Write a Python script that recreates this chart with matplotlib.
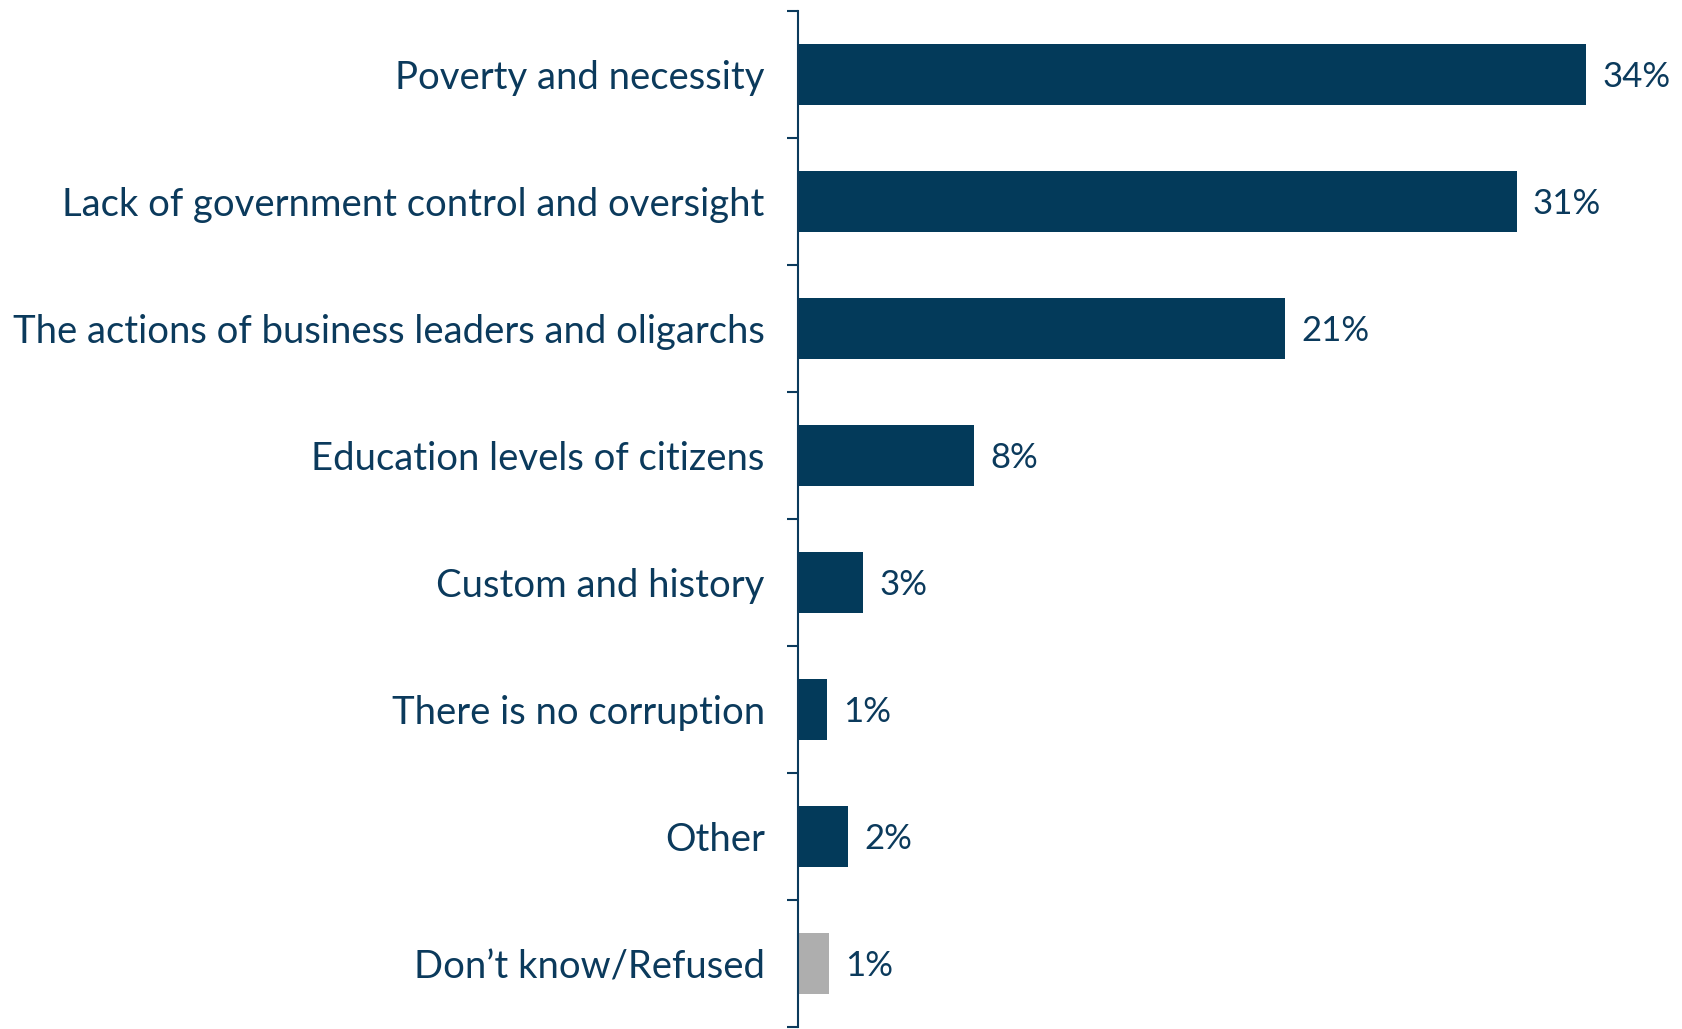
import numpy as np
import matplotlib.pyplot as plt

categories = [
    "Poverty and necessity",
    "Lack of government control and oversight",
    "The actions of business leaders and oligarchs",
    "Education levels of citizens",
    "Custom and history",
    "There is no corruption",
    "Other",
    "Don\u2019t know/Refused",
]
values = [34.0, 31.0, 21.0, 7.6, 2.8, 1.25, 2.15, 1.35]
labels = ["34%", "31%", "21%", "8%", "3%", "1%", "2%", "1%"]

navy = "#033a5a"
grey = "#aeaeae"
text_color = "#0b3a5c"
colors = [navy] * 7 + [grey]

plt.rcParams["font.family"] = ["Lato", "DejaVu Sans"]

fig = plt.figure(figsize=(16.82, 10.29), dpi=100)
ax = fig.add_axes([798 / 1682, 2 / 1029, 1 - 798 / 1682, 1016 / 1029])

y = np.arange(len(categories))
ax.barh(y, values, height=0.48, color=colors)

for yi, v, lab in zip(y, values, labels):
    ax.text(v + 0.7, yi + 0.02, lab, va="center", ha="left", fontsize=25, color=text_color)

ax.set_xlim(0, 884 / 23.18)
ax.set_ylim(len(categories) - 0.5, -0.5)

ax.set_yticks(y)
ax.set_yticklabels(categories, fontsize=27.5, color=text_color)
ax.tick_params(axis="y", which="major", length=0, pad=24)
ax.set_yticks(np.arange(-0.5, len(categories), 1.0), minor=True)
ax.tick_params(axis="y", which="minor", length=8, width=1.5, color=text_color)
ax.set_xticks([])

for s in ["top", "right", "bottom"]:
    ax.spines[s].set_visible(False)
ax.spines["left"].set_color(text_color)
ax.spines["left"].set_linewidth(1.5)

fig.savefig("out.png", dpi=100)
